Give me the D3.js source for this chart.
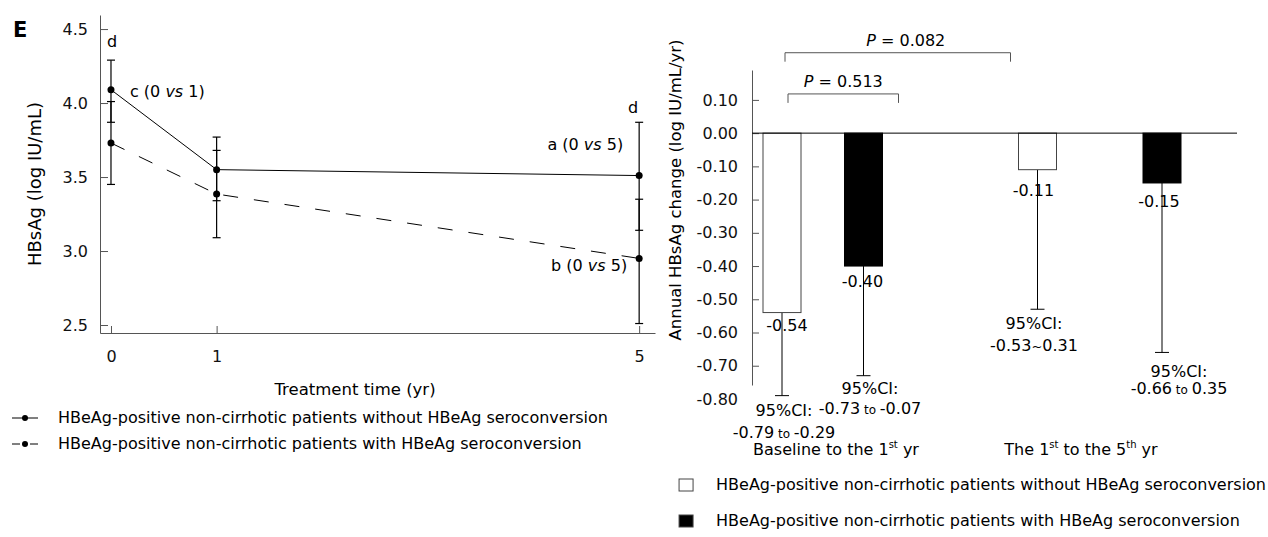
<!DOCTYPE html>
<html><head><meta charset="utf-8">
<script src="https://cdn.jsdelivr.net/npm/d3@7"></script>
<style>
body{margin:0;background:#fff;}
svg{display:block;font-family:Verdana,"DejaVu Sans",sans-serif;}
</style></head><body>
<svg id="c" width="1268" height="537"></svg>
<script>
// ---------- Data: left panel (HBsAg level vs treatment time) ----------
const years = [0, 1, 5];
const hbsTicks = [2.5, 3.0, 3.5, 4.0, 4.5];
const noSeroMean = [4.09, 3.55, 3.51];
const noSeroLow  = [3.87, 3.34, 3.14];
const noSeroHigh = [4.29, 3.77, 3.87];
const seroMean = [3.73, 3.385, 2.95];
const seroLow  = [3.45, 3.09, 2.51];
const seroHigh = [4.01, 3.68, 3.35];
const seriesNames = [
  "HBeAg-positive non-cirrhotic patients without HBeAg seroconversion",
  "HBeAg-positive non-cirrhotic patients with HBeAg seroconversion"
];

// ---------- Data: right panel (annual HBsAg change) ----------
const periodLabels = [["Baseline to the 1","st"," yr"], ["The 1","st"," to the 5","th"," yr"]];
const annualNoSero = [-0.54, -0.11];
const annualSero   = [-0.40, -0.15];
const ciLowNoSero  = [-0.79, -0.53];
const ciHighNoSero = [-0.29, 0.31];
const ciSepNoSero  = ["to", "~"];
const ciLowSero    = [-0.73, -0.66];
const ciHighSero   = [-0.07, 0.35];
const ciSepSero    = ["to", "to"];
const annualTicks = [0.10, 0.00, -0.10, -0.20, -0.30, -0.40, -0.50, -0.60, -0.70, -0.80];
const pValues = ["0.513", "0.082"];

// ---------- Layout ----------
const svg = d3.select("#c");
const FS = 16;
const axisColor = "#555";

// ===== Left panel =====
const xL = d3.scaleLinear([-0.104, 5.15], [100, 655]);
const yL = d3.scaleLinear([2.446, 4.595], [333, 15]);

svg.append("text").attr("x", 13).attr("y", 37).attr("font-size", 21).attr("font-weight", "bold").text("E");

const gyL = svg.append("g").attr("transform", "translate(100,0)")
  .call(d3.axisLeft(yL).tickValues(hbsTicks).tickSize(-8).tickSizeOuter(0).tickPadding(12).tickFormat(d => d.toFixed(1)));
const gxL = svg.append("g").attr("transform", "translate(0,333)")
  .call(d3.axisBottom(xL).tickValues(years).tickSize(-7).tickSizeOuter(0).tickPadding(17.5).tickFormat(d => String(d)));
[gyL, gxL].forEach(g => {
  g.attr("font-family", null).attr("font-size", FS);
  g.selectAll("path,line").attr("stroke", axisColor);
  g.selectAll("text").attr("fill", "#111");
});

svg.append("text").attr("transform", "translate(35,184) rotate(-90)").attr("text-anchor", "middle")
  .attr("dy", "0.35em").attr("font-size", 18).text("HBsAg (log IU/mL)");
svg.append("text").attr("x", 355).attr("y", 395).attr("text-anchor", "middle").attr("font-size", 16.5).text("Treatment time (yr)");

const leftSeries = [
  {mean: noSeroMean, low: noSeroLow, high: noSeroHigh, dash: null},
  {mean: seroMean, low: seroLow, high: seroHigh, dash: "15,16"}
];
const line = d3.line().x((d, i) => xL(years[i])).y(d => yL(d));
leftSeries.forEach(s => {
  svg.append("path").attr("d", line(s.mean)).attr("fill", "none").attr("stroke", "#000")
    .attr("stroke-width", 1).attr("stroke-dasharray", s.dash);
});
leftSeries.forEach(s => {
  const g = svg.append("g").attr("stroke", "#000").attr("stroke-width", 1.2);
  years.forEach((yr, i) => {
    const x = xL(yr);
    g.append("line").attr("x1", x).attr("x2", x).attr("y1", yL(s.low[i])).attr("y2", yL(s.high[i]));
    [s.low[i], s.high[i]].forEach(v => g.append("line").attr("x1", x - 4).attr("x2", x + 4).attr("y1", yL(v)).attr("y2", yL(v)));
  });
  svg.append("g").selectAll("circle").data(s.mean).join("circle")
    .attr("cx", (d, i) => xL(years[i])).attr("cy", d => yL(d)).attr("r", 3.5).attr("fill", "#000");
});

function annot(x, y, pre, num, anchor) {
  const t = svg.append("text").attr("x", x).attr("y", y).attr("font-size", FS).attr("text-anchor", anchor || "start");
  t.append("tspan").text(pre + " (0 ");
  t.append("tspan").attr("font-style", "italic").text("vs");
  t.append("tspan").text(" " + num + ")");
}
svg.append("text").attr("x", xL(0) + 1).attr("y", yL(noSeroHigh[0]) - 13).attr("text-anchor", "middle").attr("font-size", FS).text("d");
annot(xL(0) + 19, yL(noSeroMean[0]) + 7, "c", "1");
svg.append("text").attr("x", xL(5) - 6).attr("y", yL(noSeroHigh[2]) - 9).attr("text-anchor", "middle").attr("font-size", FS).text("d");
annot(xL(5) - 16, yL(noSeroMean[2]) - 26, "a", "5", "end");
annot(xL(5) - 12, yL(seroMean[2]) + 13, "b", "5", "end");

// left legend
const legL = [{y: 418, dash: null}, {y: 444, dash: "8,10"}];
legL.forEach((l, i) => {
  svg.append("line").attr("x1", 12).attr("x2", 38).attr("y1", l.y).attr("y2", l.y)
    .attr("stroke", "#000").attr("stroke-dasharray", l.dash);
  svg.append("circle").attr("cx", 25).attr("cy", l.y).attr("r", 3).attr("fill", "#000");
  svg.append("text").attr("x", 58).attr("y", l.y + 5).attr("font-size", 16).text(seriesNames[i]);
});

// ===== Right panel =====
const yR = d3.scaleLinear([-0.758, 0.19], [385, 70]);
const x0 = d3.scalePoint().domain([0, 1]).range([822.75, 1099.75]);
const spread = [81.5, 124.5];
const barW = 38;
const bars = [];
[0, 1].forEach(g => {
  bars.push({g, s: 0, v: annualNoSero[g], lo: ciLowNoSero[g], hi: ciHighNoSero[g], sep: ciSepNoSero[g]});
  bars.push({g, s: 1, v: annualSero[g], lo: ciLowSero[g], hi: ciHighSero[g], sep: ciSepSero[g]});
});
const cx = b => x0(b.g) + (b.s - 0.5) * spread[b.g];

const gyR = svg.append("g").attr("transform", "translate(752,0)")
  .call(d3.axisLeft(yR).tickValues(annualTicks).tickSize(-7).tickSizeOuter(0).tickPadding(14).tickFormat(d => d.toFixed(2)));
gyR.attr("font-family", null).attr("font-size", FS);
gyR.selectAll("path,line").attr("stroke", axisColor);
gyR.selectAll("text").attr("fill", "#111");
gyR.selectAll(".tick").filter(d => d < -0.76).select("line").remove();

svg.append("text").attr("transform", "translate(675,190) rotate(-90)").attr("text-anchor", "middle")
  .attr("dy", "0.35em").attr("font-size", 16.5).text("Annual HBsAg change (log IU/mL/yr)");

// error whiskers (downward)
bars.forEach(b => {
  const x = cx(b);
  svg.append("line").attr("x1", x).attr("x2", x).attr("y1", yR(b.v)).attr("y2", yR(b.lo)).attr("stroke", "#000");
  svg.append("line").attr("x1", x - 7).attr("x2", x + 7).attr("y1", yR(b.lo)).attr("y2", yR(b.lo)).attr("stroke", "#000");
});
// bars
svg.append("g").selectAll("rect").data(bars).join("rect")
  .attr("x", b => cx(b) - barW / 2).attr("width", barW)
  .attr("y", yR(0)).attr("height", b => yR(b.v) - yR(0))
  .attr("fill", b => b.s ? "#000" : "#fff").attr("stroke", b => b.s ? "#000" : "#444").attr("stroke-width", 1);
// zero line
svg.append("line").attr("x1", 752).attr("x2", 1237).attr("y1", yR(0)).attr("y2", yR(0)).attr("stroke", "#000");

// value labels
const valDx = [5, -1, -4, -3], valDy = [18, 21, 26, 24];
bars.forEach((b, i) => {
  svg.append("text").attr("x", cx(b) + valDx[i]).attr("y", yR(b.v) + valDy[i]).attr("text-anchor", "middle")
    .attr("font-size", FS).text(b.v.toFixed(2));
});
// CI labels
const ciDx = [2, 6.5, -3.5, 17], ciDy = [20, 18, 20, 25], ciLh = [22, 20, 22, 17];
bars.forEach((b, i) => {
  const x = cx(b) + ciDx[i], y = yR(b.lo) + ciDy[i];
  svg.append("text").attr("x", x).attr("y", y).attr("text-anchor", "middle").attr("font-size", FS).text("95%CI:");
  const t = svg.append("text").attr("x", x).attr("y", y + ciLh[i]).attr("text-anchor", "middle").attr("font-size", FS);
  t.append("tspan").text(b.lo.toFixed(2));
  t.append("tspan").attr("font-size", b.sep === "~" ? 13 : 12).text(b.sep === "~" ? "~" : " " + b.sep + " ");
  t.append("tspan").text(b.hi.toFixed(2));
});

// category labels
const catDx = [13.25, -18.75];
periodLabels.forEach((parts, g) => {
  const t = svg.append("text").attr("x", x0(g) + catDx[g]).attr("y", 455).attr("text-anchor", "middle").attr("font-size", FS);
  parts.forEach((p, k) => {
    if (k % 2 === 1) t.append("tspan").attr("font-size", 10).attr("dy", -7).text(p);
    else t.append("tspan").attr("dy", k === 0 ? 0 : 7).text(p);
  });
});

// significance brackets
function bracket(x1, x2, v, h, label, dx) {
  const y = yR(v), y2 = yR(v - h);
  svg.append("path").attr("d", `M${x1},${y2}V${y}H${x2}V${y2}`).attr("fill", "none").attr("stroke", "#555");
  const t = svg.append("text").attr("x", (x1 + x2) / 2 + dx).attr("y", y - 7)
    .attr("text-anchor", "middle").attr("font-size", FS);
  t.append("tspan").attr("font-style", "italic").text("P");
  t.append("tspan").text(" = " + label);
}
bracket(cx(bars[0]) + 6, cx(bars[1]) + 35, 0.118, 0.027, pValues[0], 0);
bracket(cx(bars[0]) + 3, cx(bars[2]) - 27, 0.242, 0.027, pValues[1], 8);

// right legend (left-aligned block ending at the right edge)
const legR = [{y: 485, fill: "#fff"}, {y: 521, fill: "#000"}];
const legTexts = legR.map((l, i) =>
  svg.append("text").attr("x", 0).attr("y", l.y + 5).attr("font-size", 16).text(seriesNames[i]));
const maxW = d3.max(legTexts, t => t.node().getComputedTextLength());
const legX = 1266 - maxW;
legTexts.forEach(t => t.attr("x", legX));
legR.forEach(l => {
  svg.append("rect").attr("x", legX - 37).attr("y", l.y - 6).attr("width", 14).attr("height", 12)
    .attr("fill", l.fill).attr("stroke", "#444");
});
</script>
</body></html>
